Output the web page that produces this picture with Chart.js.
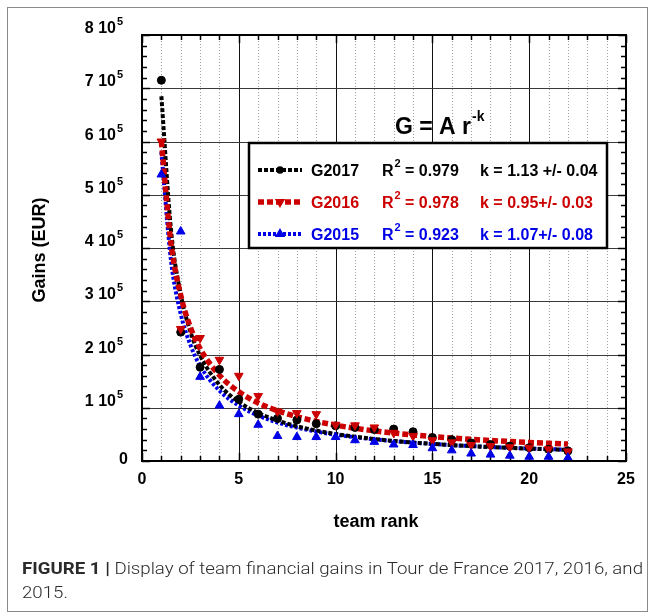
<!DOCTYPE html>
<html><head><meta charset="utf-8">
<script src="https://cdn.jsdelivr.net/npm/chart.js@4.4.1/dist/chart.umd.min.js"></script>
<style>
html,body{margin:0;padding:0;background:#fff;}
#wrap{position:relative;width:655px;height:615px;overflow:hidden;background:#fff;}
#c{position:absolute;left:0;top:0;}
#frame{position:absolute;left:7px;top:7px;width:641px;height:605px;border:1.5px solid #8a8a8a;box-sizing:border-box;pointer-events:none;}
#cap{position:absolute;left:22px;top:556px;font-family:Roboto,"Liberation Sans",sans-serif;font-weight:300;font-size:17px;color:#2b2b2b;line-height:24px;white-space:nowrap;transform-origin:0 0;}
#cap b{font-weight:700;}
#l1{display:inline-block;}
</style></head>
<body><div id="wrap"><canvas id="c" width="655" height="615"></canvas><div id="frame"></div>
<div id="cap"><span id="l1"><b>FIGURE 1 |</b> Display of team financial gains in Tour de France 2017, 2016, and</span><div>2015.</div></div></div>
<script>
// ---------- data ----------
const ranks = [1,2,3,4,5,6,7,8,9,10,11,12,13,14,15,16,17,18,19,20,21,22];
const g2017 = [715000,242000,176000,172000,116000,88000,80000,77000,70000,66000,63000,59000,60000,55000,44000,40000,34000,31000,28000,25000,22000,19000];
const g2016 = [600000,248000,231000,190000,160000,122000,93000,90000,88000,68000,67000,63000,53000,47000,39000,35000,30000,28000,26000,25000,22000,18000];
const g2015 = [538000,431000,158000,104000,88000,68000,47000,45000,45000,45000,39000,36000,31000,30000,24000,20000,14000,12000,10000,8000,8000,6000];
// fitted power-law curves
const fitRanks = [1,1.5,2,2.5,3,4,5,6,7,8,9,10,11,12,13,14,15,16,17,18,19,20,21,22];
const fit2017 = [685000,433000,313000,243000,198000,143000,111000,90400,76000,65300,57200,50800,45600,41300,37700,34700,32100,29900,27900,26100,24600,23200,22000,20800];
const fit2016 = [600000,408000,311000,251000,211000,161000,130000,109000,94500,83200,74400,67300,61500,56600,52500,48900,45800,43100,40700,38500,36600,34900,33300,31800];
const fit2015 = [580000,376000,276000,218000,179000,132000,104000,85300,72300,62700,55300,49400,44600,40600,37300,34500,32000,29800,28000,26300,24800,23500,22300,21200];
const xTickLabels = ['0','5','10','15','20','25'];
const yTickLabels = ['0','1 10','2 10','3 10','4 10','5 10','6 10','7 10','8 10'];
const legendRows = [
  {name:'G2017', r2:' = 0.979', k:'k = 1.13 +/- 0.04'},
  {name:'G2016', r2:' = 0.978', k:'k = 0.95+/- 0.03'},
  {name:'G2015', r2:' = 0.923', k:'k = 1.07+/- 0.08'}
];

const BLACK='#000000', RED='#cc0000', BLUE='#0000e6';
const FONT='"Liberation Sans", Arial, Helvetica, sans-serif';
const pts = (xs, ys) => xs.map((v,i)=>({x:v, y:ys[i]}));

const styles = {
  k:{color:BLACK, dash:[4,2], w:4, marker:'circle', rot:0, mr:4},
  r:{color:RED, dash:[6,3], w:5.5, marker:'triangle', rot:180, mr:5},
  b:{color:BLUE, dash:[3,2], w:4, marker:'triangle', rot:0, mr:5}
};

const deco = {
  id:'deco',
  beforeDatasetsDraw(chart){
    const {ctx, chartArea:a, scales:{x,y}} = chart;
    ctx.save();
    for(let v=1; v<25; v++){
      const px = Math.round(x.getPixelForValue(v))+0.5;
      ctx.beginPath();
      if(v%5===0){ctx.strokeStyle='#111';ctx.setLineDash([]);ctx.lineWidth=1;}
      else {ctx.strokeStyle='#a0a0a0';ctx.setLineDash([1,2]);ctx.lineWidth=1;}
      ctx.moveTo(px,a.top);ctx.lineTo(px,a.bottom);ctx.stroke();
    }
    ctx.setLineDash([]);
    for(let v=100000; v<800000; v+=100000){
      const py = Math.round(y.getPixelForValue(v))+0.5;
      ctx.beginPath();ctx.strokeStyle='#3a3a3a';ctx.lineWidth=1.2;
      ctx.moveTo(a.left,py);ctx.lineTo(a.right,py);ctx.stroke();
    }
    ctx.strokeStyle='#000';ctx.lineWidth=1.5;
    for(let v=0; v<=800000; v+=20000){
      const py = Math.round(y.getPixelForValue(v))+0.5;
      const len = (v%100000===0)?8:5;
      ctx.beginPath();
      ctx.moveTo(a.left,py);ctx.lineTo(a.left+len,py);
      ctx.moveTo(a.right,py);ctx.lineTo(a.right-len,py);
      ctx.stroke();
    }
    for(let v=0; v<=25; v++){
      const px = Math.round(x.getPixelForValue(v))+0.5;
      const len = (v%5===0)?8:5;
      ctx.beginPath();
      ctx.moveTo(px,a.bottom);ctx.lineTo(px,a.bottom-len);
      ctx.moveTo(px,a.top);ctx.lineTo(px,a.top+len);
      ctx.stroke();
    }
    ctx.restore();
  },
  afterDatasetsDraw(chart){
    const {ctx, chartArea:a, scales:{x,y}} = chart;
    ctx.save();
    ctx.strokeStyle='#000';ctx.lineWidth=2;
    ctx.strokeRect(a.left,a.top,a.right-a.left,a.bottom-a.top);
    ctx.fillStyle='#000';
    ctx.font='bold 16px '+FONT;
    ctx.textAlign='center';ctx.textBaseline='alphabetic';
    xTickLabels.forEach((t,i)=>{
      ctx.fillText(t, x.getPixelForValue(i*5), a.bottom+23);
    });
    yTickLabels.forEach((t,i)=>{
      const py = y.getPixelForValue(i*100000);
      ctx.textAlign='right';
      ctx.font='bold 16px '+FONT;
      if(i===0){ctx.fillText(t, a.left-14, py+3);}
      else{
        ctx.fillText(t, a.left-26, py-2);
        ctx.textAlign='left';
        ctx.font='bold 11px '+FONT;
        ctx.fillText('5', a.left-25, py-10);
      }
    });
    ctx.font='bold 18px '+FONT;
    ctx.textAlign='center';
    ctx.fillText('team rank', 376, a.bottom+66);
    ctx.save();
    ctx.translate(45, 250);
    ctx.rotate(-Math.PI/2);
    ctx.fillText('Gains (EUR)', 0, 0);
    ctx.restore();
    ctx.textAlign='left';
    ctx.font='bold 23px '+FONT;
    ctx.fillText('G = A r', 395, 134);
    const fw = ctx.measureText('G = A r').width;
    ctx.font='bold 14px '+FONT;
    ctx.fillText('-k', 395+fw+1, 121);
    const bx=249, by=143, bw=358, bh=105;
    ctx.fillStyle='#fff';ctx.fillRect(bx,by,bw,bh);
    ctx.strokeStyle='#000';ctx.lineWidth=2.5;ctx.strokeRect(bx,by,bw,bh);
    const keys=['k','r','b'];
    legendRows.forEach((row,i)=>{
      const s=styles[keys[i]];
      const base = 176 + i*32;
      const cy = base-6;
      ctx.save();
      ctx.strokeStyle=s.color;ctx.lineWidth=s.w;ctx.setLineDash(s.dash);
      ctx.beginPath();ctx.moveTo(258,cy);ctx.lineTo(302,cy);ctx.stroke();
      ctx.restore();
      ctx.fillStyle=s.color;ctx.strokeStyle=s.color;
      Chart.helpers.drawPoint(ctx,{pointStyle:s.marker,rotation:s.rot,radius:s.mr-1.5,borderWidth:1},280,cy);
      ctx.fillStyle=s.color;
      ctx.font='bold 16px '+FONT;ctx.textAlign='left';
      ctx.fillText(row.name, 311, base);
      ctx.fillText('R', 382, base);
      const rw=ctx.measureText('R').width;
      ctx.font='bold 11px '+FONT;
      ctx.fillText('2', 382+rw+1, base-9);
      ctx.font='bold 16px '+FONT;
      ctx.fillText(row.r2, 382+rw+7, base);
      ctx.fillText(row.k, 480, base);
    });
    ctx.restore();
  }
};

function lineDs(data, s){
  return {data, showLine:true, pointRadius:0, borderColor:s.color, borderWidth:s.w, borderDash:s.dash,
    backgroundColor:s.color, cubicInterpolationMode:'monotone', fill:false};
}
function ptDs(data, s){
  return {data, showLine:false, pointStyle:s.marker, rotation:s.rot, pointRadius:s.mr,
    pointBackgroundColor:s.color, pointBorderColor:s.color, pointBorderWidth:1};
}

new Chart(document.getElementById('c'), {
  type:'scatter',
  data:{datasets:[
    ptDs(pts(ranks,g2015), styles.b),
    ptDs(pts(ranks,g2016), styles.r),
    ptDs(pts(ranks,g2017), styles.k),
    lineDs(pts(fitRanks,fit2016), styles.r),
    lineDs(pts(fitRanks,fit2017), styles.k),
    lineDs(pts(fitRanks,fit2015), styles.b)
  ]},
  options:{
    responsive:false, animation:false,
    layout:{padding:{left:142, top:35, right:29, bottom:154}},
    plugins:{legend:{display:false}, tooltip:{enabled:false}},
    scales:{
      x:{type:'linear', min:0, max:25, display:false},
      y:{type:'linear', min:0, max:800000, display:false}
    }
  },
  plugins:[deco]
});

const l1=document.getElementById('l1');
const w=l1.getBoundingClientRect().width;
document.getElementById('cap').style.transform='scaleX('+(621/w)+')';
</script>
</body></html>
